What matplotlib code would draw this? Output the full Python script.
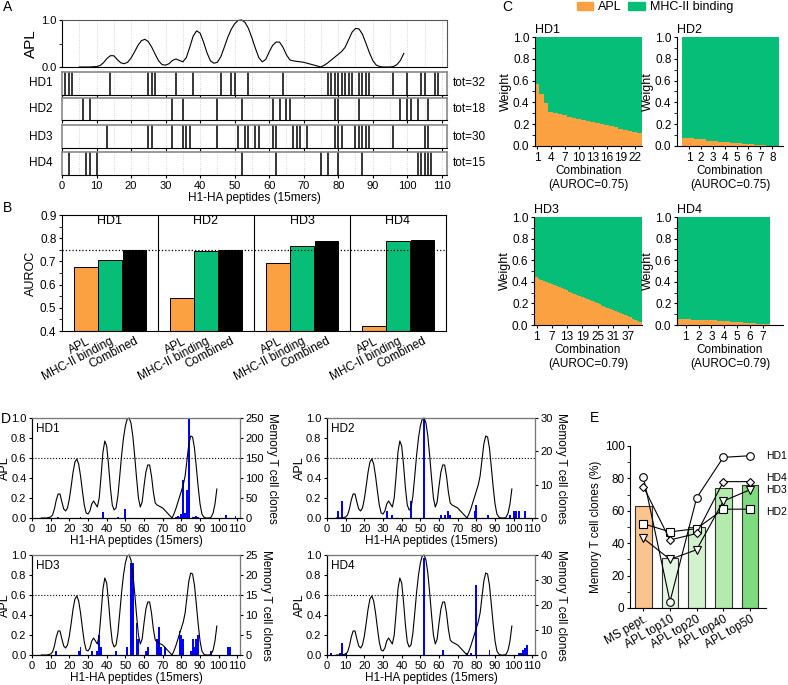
import matplotlib
matplotlib.use("Agg")
import matplotlib.pyplot as plt
from matplotlib.patches import Patch
import numpy as np

plt.rcParams['font.family'] = ['Liberation Sans', 'DejaVu Sans']
plt.rcParams['font.size'] = 8
plt.rcParams['axes.linewidth'] = 0.8
plt.rcParams['xtick.major.size'] = 2.5
plt.rcParams['ytick.major.size'] = 2.5
plt.rcParams['xtick.major.pad'] = 1.5
plt.rcParams['ytick.major.pad'] = 1.5

# ---- data ----
# APL profile along H1-HA peptides
apl_pep = list(range(5, 100))
apl = [0.0, 0.0, 0.0, 0.0, 0.005, 0.01, 0.03, 0.09, 0.18, 0.24,
       0.24, 0.16, 0.09, 0.07, 0.10, 0.19, 0.32, 0.46, 0.56, 0.59,
       0.54, 0.42, 0.27, 0.13, 0.05, 0.04, 0.07, 0.14, 0.17, 0.14,
       0.11, 0.20, 0.42, 0.66, 0.77, 0.72, 0.53, 0.30, 0.13, 0.08,
       0.10, 0.22, 0.42, 0.63, 0.80, 0.92, 0.99, 1.0, 0.95, 0.82,
       0.62, 0.40, 0.20, 0.11, 0.16, 0.32, 0.46, 0.53, 0.53, 0.42,
       0.26, 0.15, 0.13, 0.12, 0.11, 0.10, 0.08, 0.06, 0.04, 0.02,
       0.0, 0.04, 0.09, 0.15, 0.21, 0.27, 0.33, 0.42, 0.58, 0.74,
       0.82, 0.81, 0.70, 0.51, 0.31, 0.14, 0.04, 0.01, 0.0, 0.0,
       0.0, 0.01, 0.05, 0.14, 0.29]

donors = ["HD1", "HD2", "HD3", "HD4"]

# peptides recognised by memory T cell clones, and clone counts
hd1_pos = [1, 2, 3, 14, 25, 26, 27, 33, 38, 46, 49, 50, 54, 64, 77, 78, 79, 80, 81, 82,
           83, 84, 86, 87, 88, 89, 96, 100, 104, 105, 108, 109]
hd1_clones = [1, 1, 1, 2, 1, 2, 1, 1, 15, 2, 1, 23, 1, 1, 2, 5, 3, 10, 96, 12,
              70, 250, 3, 3, 4, 2, 1, 1, 8, 1, 1, 5]
hd2_pos = [6, 8, 32, 35, 45, 52, 61, 63, 65, 66, 79, 80, 86, 98, 100, 101, 103, 106]
hd2_clones = [2, 5, 2, 1, 5, 30, 1, 1, 2, 1, 2, 4, 1, 1, 2, 2, 2, 2]
hd3_pos = [13, 25, 26, 32, 35, 36, 37, 45, 51, 53, 54, 56, 57, 61, 62, 67, 68, 69, 71, 79,
           80, 81, 85, 86, 87, 88, 89, 96, 105, 106]
hd3_clones = [1, 1, 2, 1, 1, 5, 2, 1, 2, 23, 23, 8, 4, 1, 2, 4, 7, 2, 2, 6,
              5, 4, 1, 4, 2, 4, 5, 1, 2, 2]
hd4_pos = [2, 7, 8, 10, 52, 62, 75, 77, 80, 87, 103, 104, 105, 106, 107]
hd4_clones = [1, 1, 5, 1, 39, 2, 1, 1, 28, 2, 1, 1, 2, 3, 4]
all_pos = [hd1_pos, hd2_pos, hd3_pos, hd4_pos]
all_clones = [hd1_clones, hd2_clones, hd3_clones, hd4_clones]
clone_max = [250, 30, 25, 40]
clone_step = [50, 10, 5, 10]

# AUROC per donor
auroc_apl = [0.675, 0.542, 0.692, 0.421]
auroc_mhc = [0.706, 0.746, 0.768, 0.790]
auroc_comb = [0.748, 0.748, 0.787, 0.792]
model_names = ["APL", "MHC-II binding", "Combined"]

# APL weight per combination
w_hd1 = [0.57, 0.48, 0.39, 0.31, 0.30, 0.29, 0.28, 0.27, 0.26, 0.25, 0.24, 0.23,
         0.22, 0.21, 0.20, 0.19, 0.18, 0.17, 0.16, 0.15, 0.14, 0.13, 0.12]
w_hd2 = [0.07, 0.06, 0.05, 0.04, 0.03, 0.02, 0.01, 0.004]
w_hd3 = [0.44, 0.43, 0.42, 0.41, 0.40, 0.39, 0.38, 0.37, 0.36, 0.35, 0.34, 0.33,
         0.32, 0.31, 0.30, 0.29, 0.28, 0.27, 0.26, 0.25, 0.24, 0.23, 0.22, 0.21,
         0.20, 0.19, 0.18, 0.17, 0.16, 0.15, 0.14, 0.13, 0.12, 0.11, 0.10, 0.09,
         0.08, 0.07, 0.06, 0.05, 0.04, 0.03]
w_hd4 = [0.06, 0.05, 0.045, 0.035, 0.025, 0.015, 0.005]
weights = [w_hd1, w_hd2, w_hd3, w_hd4]
comb_auroc = ["0.75", "0.75", "0.79", "0.79"]
comb_ticks = [[1, 4, 7, 10, 13, 16, 19, 22], [1, 2, 3, 4, 5, 6, 7, 8],
              [1, 7, 13, 19, 25, 31, 37], [1, 2, 3, 4, 5, 6, 7]]

# memory T cell clones (%) recovered
sel_names = ["MS pept.", "APL top10", "APL top20", "APL top40", "APL top50"]
sel_mean = [63, 31, 50, 74, 76]
pct_hd1 = [81, 4, 68, 93, 94]
pct_hd2 = [52, 47, 49, 61, 61]
pct_hd3 = [43, 30, 36, 66, 73]
pct_hd4 = [75, 42, 46, 78, 78]

ORANGE = "#FBA142"
GREEN = "#06BE78"
W, H = 788, 685
fig = plt.figure(figsize=(W / 100, H / 100), dpi=100)


def px_axes(x0, y0, x1, y1):
    return fig.add_axes([x0 / W, 1 - y1 / H, (x1 - x0) / W, (y1 - y0) / H])


def grid5(ax):
    for v in range(5, 111, 5):
        ax.axvline(v, color="#c8c8c8", ls=":", lw=0.6, zorder=0)


# ---- A ----
axA = px_axes(62, 20, 447, 67)
grid5(axA)
axA.plot(apl_pep, apl, color="black", lw=0.8, clip_on=False)
axA.set_xlim(0, 111.5)
axA.set_ylim(0, 1)
axA.set_yticks([0, 1])
axA.set_yticklabels(["0.0", "1.0"], fontsize=8)
axA.set_yticks([0.5], minor=True)
axA.set_xticks(range(0, 111, 10))
axA.tick_params(axis="x", labelbottom=False, length=0)
axA.set_ylabel("APL", fontsize=11, labelpad=2)
for s in ["top", "right"]:
    axA.spines[s].set_color("#555555")

rows_y = [(72, 95), (98, 120), (125, 148), (152, 175)]
for i, (y0, y1) in enumerate(rows_y):
    ax = px_axes(62, y0, 447, y1)
    grid5(ax)
    for p in all_pos[i]:
        ax.axvline(p, color="black", lw=1.1)
    ax.set_xlim(0, 111.5)
    ax.set_yticks([])
    ax.set_xticks(range(0, 111, 10))
    for s in ax.spines.values():
        s.set_color("#888888")
        s.set_linewidth(1.2)
    ax.spines["bottom"].set_color("black")
    ax.spines["bottom"].set_linewidth(0.8)
    ax.text(-0.025, 0.5, donors[i], transform=ax.transAxes, ha="right", va="center", fontsize=8.5)
    ax.text(1.015, 0.5, "tot=%d" % len(all_pos[i]), transform=ax.transAxes,
            ha="left", va="center", fontsize=8.5)
    if i < 3:
        ax.tick_params(axis="x", labelbottom=False)
    else:
        ax.tick_params(axis="x", labelsize=8)
        ax.set_xlabel("H1-HA peptides (15mers)", fontsize=8.5, labelpad=1)

# ---- B ----
axB = px_axes(62, 215, 446, 331)
xt, xl = [], []
for i in range(4):
    axB.bar(i + 0.25, auroc_apl[i], width=0.24, color=ORANGE, edgecolor="black", lw=0.7)
    axB.bar(i + 0.5, auroc_mhc[i], width=0.24, color=GREEN, edgecolor="black", lw=0.7)
    axB.bar(i + 0.755, auroc_comb[i], width=0.24, color="black", edgecolor="black", lw=0.7)
    axB.text(i + 0.5, 0.875, donors[i], ha="center", va="center", fontsize=9)
    xt += [i + 0.25, i + 0.5, i + 0.755]
    xl += model_names
for v in [1, 2, 3]:
    axB.axvline(v, color="black", lw=0.8)
axB.axhline(0.75, color="black", ls=":", lw=0.9)
axB.set_xlim(0, 4)
axB.set_ylim(0.4, 0.9)
axB.set_yticks(np.arange(0.4, 0.91, 0.1))
axB.set_yticks(np.arange(0.45, 0.9, 0.1), minor=True)
axB.tick_params(axis="y", labelsize=8.5)
axB.set_xticks(xt)
axB.set_xticklabels(xl, rotation=28, ha="right", rotation_mode="anchor", fontsize=8.5)
axB.tick_params(axis="x", length=0, pad=3)
axB.set_ylabel("AUROC", fontsize=9, labelpad=2)

# ---- C ----
c_boxes = [(535, 37, 642, 146), (677, 37, 783, 146), (534, 217, 642, 325), (677, 217, 783, 325)]
c_xlim = [(0.6, 23.6), (0, 8.9), (0, 42.5), (0.33, 8.55)]
c_width = [1.0, 1.1, 1.0, 1.15]
for i in range(4):
    ax = px_axes(*c_boxes[i])
    n = len(weights[i])
    xs = np.arange(1, n + 1)
    w = np.array(weights[i])
    ax.bar(xs, w, width=c_width[i], color=ORANGE, lw=0)
    ax.bar(xs, 1 - w, bottom=w, width=c_width[i], color=GREEN, lw=0)
    ax.set_xlim(*c_xlim[i])
    ax.set_ylim(0, 1)
    ax.set_xticks(comb_ticks[i])
    ax.set_yticks(np.arange(0, 1.01, 0.2))
    ax.set_yticks(np.arange(0.1, 1.0, 0.2), minor=True)
    ax.tick_params(labelsize=8.5)
    ax.set_yticklabels(["0.0", "0.2", "0.4", "0.6", "0.8", "1.0"])
    ax.set_ylabel("Weight", fontsize=9, labelpad=1)
    ax.set_xlabel("Combination\n(AUROC=%s)" % comb_auroc[i], fontsize=8.5, labelpad=1)
    ax.text(0, 1.01, donors[i], transform=ax.transAxes, ha="left", va="bottom", fontsize=9)
    for s in ["top", "right"]:
        ax.spines[s].set_visible(False)
fig.legend(handles=[Patch(color=ORANGE, label="APL"), Patch(color=GREEN, label="MHC-II binding")],
           loc="center", bbox_to_anchor=(655 / W, 1 - 7 / H), ncol=2, frameon=False,
           handlelength=1.3, handleheight=0.6, columnspacing=0.5, handletextpad=0.4, fontsize=9)

# ---- D ----
d_boxes = [(32, 418, 240, 518), (327, 418, 535, 518), (32, 555, 240, 655), (327, 555, 535, 655)]
for i in range(4):
    ax = px_axes(*d_boxes[i])
    ax2 = ax.twinx()
    ax2.bar(all_pos[i], all_clones[i], width=1.0, color="#0000ff", lw=0)
    ax2.set_ylim(0, clone_max[i])
    ax2.set_yticks(range(0, clone_max[i] + 1, clone_step[i]))
    ax2.tick_params(labelsize=8)
    ax2.set_ylabel("Memory T cell clones", rotation=270, fontsize=8.5, labelpad=10)
    ax.plot(apl_pep, apl, color="black", lw=0.8, clip_on=False)
    ax.axhline(0.6, color="black", ls=":", lw=0.8)
    ax.set_zorder(ax2.get_zorder() + 1)
    ax.patch.set_visible(False)
    ax.set_xlim(0, 111.4)
    ax.set_ylim(0, 1)
    ax.set_xticks(range(0, 111, 10))
    ax.set_yticks(np.arange(0, 1.01, 0.2))
    ax.set_yticklabels(["0.0", "0.2", "0.4", "0.6", "0.8", "1.0"])
    ax.tick_params(labelsize=8)
    ax.set_ylabel("APL", fontsize=9, labelpad=0)
    ax.set_xlabel("H1-HA peptides (15mers)", fontsize=8.5, labelpad=1)
    ax.text(0.02, 0.95, donors[i], transform=ax.transAxes, ha="left", va="top", fontsize=8.5)
    for s in ["top", "right"]:
        ax.spines[s].set_color("#777777")

# ---- E ----
axE = px_axes(630, 446, 766, 608)
e_colors = ["#F9C48E", "#E6F7E3", "#D2F2CD", "#B5EAAE", "#7FDB7F"]
xe = np.arange(len(sel_names))
axE.bar(xe, sel_mean, width=0.62, color=e_colors, edgecolor="#333333", lw=0.8)
marks = ["o", "s", "v", "D"]
msz = [5.5, 5.5, 5.5, 4.5]
pcts = [pct_hd1, pct_hd2, pct_hd3, pct_hd4]
for j in range(4):
    axE.plot(xe, pcts[j], color="black", lw=0.8, marker=marks[j], ms=msz[j],
             mfc="white", mec="black", mew=0.8, clip_on=False, zorder=3)
label_y = [94, 59, 73, 80]
for j in range(4):
    axE.text(4.6, label_y[j], donors[j], ha="left", va="center", fontsize=7.5)
axE.set_xlim(-0.5, 4.6)
axE.set_ylim(0, 100)
axE.set_yticks(range(0, 101, 20))
axE.set_yticks(range(10, 100, 20), minor=True)
axE.tick_params(labelsize=8.5)
axE.set_xticks(xe)
axE.set_xticklabels(sel_names, rotation=30, ha="right", rotation_mode="anchor")
axE.set_ylabel("Memory T cell clones (%)", fontsize=8.5, labelpad=2)
for s in ["top", "right"]:
    axE.spines[s].set_visible(False)

# panel letters
for lab, x, y in [("A", 3, 7), ("B", 3, 208), ("C", 502, 7), ("D", 1, 419), ("E", 590, 418)]:
    fig.text(x / W, 1 - y / H, lab, fontsize=10, ha="left", va="center")

fig.savefig("out.png", dpi=100)
